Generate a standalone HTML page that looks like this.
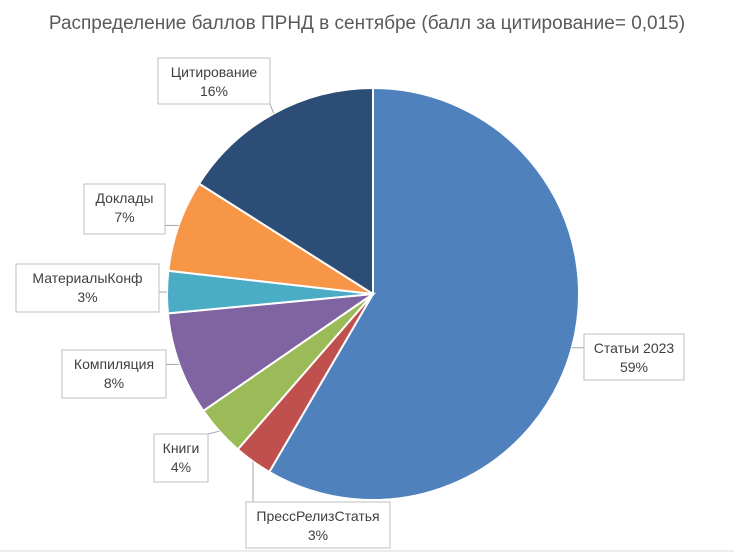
<!DOCTYPE html>
<html><head><meta charset="utf-8">
<style>
body{margin:0;background:#fff;}
svg{display:block;font-family:"Liberation Sans","DejaVu Sans",sans-serif;}
</style></head>
<body>
<svg width="734" height="556" viewBox="0 0 734 556">
<rect width="734" height="556" fill="#fff"/>
<text x="367" y="29" text-anchor="middle" font-size="19" fill="#595959">Распределение баллов ПРНД в сентябре (балл за цитирование= 0,015)</text>
<g id="slices"></g>
<g id="leaders" stroke="#a6a6a6" stroke-width="1" fill="none"></g>
<g id="labels"></g>
<line x1="0" y1="551" x2="734" y2="551" stroke="#d9d9d9" stroke-width="1"/>
</svg>
<script>
const categories = ["Статьи 2023","ПрессРелизСтатья","Книги","Компиляция","МатериалыКонф","Доклады","Цитирование"];
const values = [58.4, 3.0, 4.0, 8.1, 3.3, 7.2, 16.0];
const percentLabels = ["59%","3%","4%","8%","3%","7%","16%"];
const colors = ["#4f81bd","#c0504d","#9bbb59","#8064a2","#4bacc6","#f79646","#2c4d75"];
// label box layout (x, y, w, h) per category
const boxes = [[584,334,100,46],[246,502,144,46],[154,434,54,48],[62,350,104,48],[16,264,143,48],[84,184,81,50],[158,58,112,46]];
const NS="http://www.w3.org/2000/svg";
const cx=373, cy=294, r=206;
const total=values.reduce((a,b)=>a+b,0);
const sg=document.getElementById('slices'), lg=document.getElementById('leaders'), tg=document.getElementById('labels');
function pt(a,rr){return [cx+rr*Math.sin(a), cy-rr*Math.cos(a)];}
let acc=0;
values.forEach((v,i)=>{
  const a0=acc/total*2*Math.PI; acc+=v; const a1=acc/total*2*Math.PI;
  const p0=pt(a0,r), p1=pt(a1,r), large=(a1-a0)>Math.PI?1:0;
  const p=document.createElementNS(NS,'path');
  p.setAttribute('d',`M${cx},${cy} L${p0[0]},${p0[1]} A${r},${r} 0 ${large} 1 ${p1[0]},${p1[1]} Z`);
  p.setAttribute('fill',colors[i]); p.setAttribute('stroke','#fff'); p.setAttribute('stroke-width','2');
  
  
  sg.appendChild(p);
  // leader line
  const am=(a0+a1)/2, e=pt(am,r);
  const b=boxes[i];
  const bx=Math.max(b[0],Math.min(b[0]+b[2],e[0])), by=Math.max(b[1],Math.min(b[1]+b[3],e[1]));
  const l=document.createElementNS(NS,'polyline');
  l.setAttribute('points',`${e[0]},${e[1]} ${bx},${by}`);
  
  
  lg.appendChild(l);
  const g=document.createElementNS(NS,'g');
  
  
  const rc=document.createElementNS(NS,'rect');
  rc.setAttribute('x',b[0]);rc.setAttribute('y',b[1]);rc.setAttribute('width',b[2]);rc.setAttribute('height',b[3]);
  rc.setAttribute('fill','#fff');rc.setAttribute('stroke','#bfbfbf');
  
  
  g.appendChild(rc);
  [categories[i],percentLabels[i]].forEach((s,k)=>{
    const t=document.createElementNS(NS,'text');
    t.setAttribute('x',b[0]+b[2]/2);t.setAttribute('y',b[1]+19+k*19);
    t.setAttribute('text-anchor','middle');t.setAttribute('font-size','14');t.setAttribute('fill','#404040');
    t.textContent=s;
    
    
    g.appendChild(t);
  });
  tg.appendChild(g);
});
</script>
</body></html>
